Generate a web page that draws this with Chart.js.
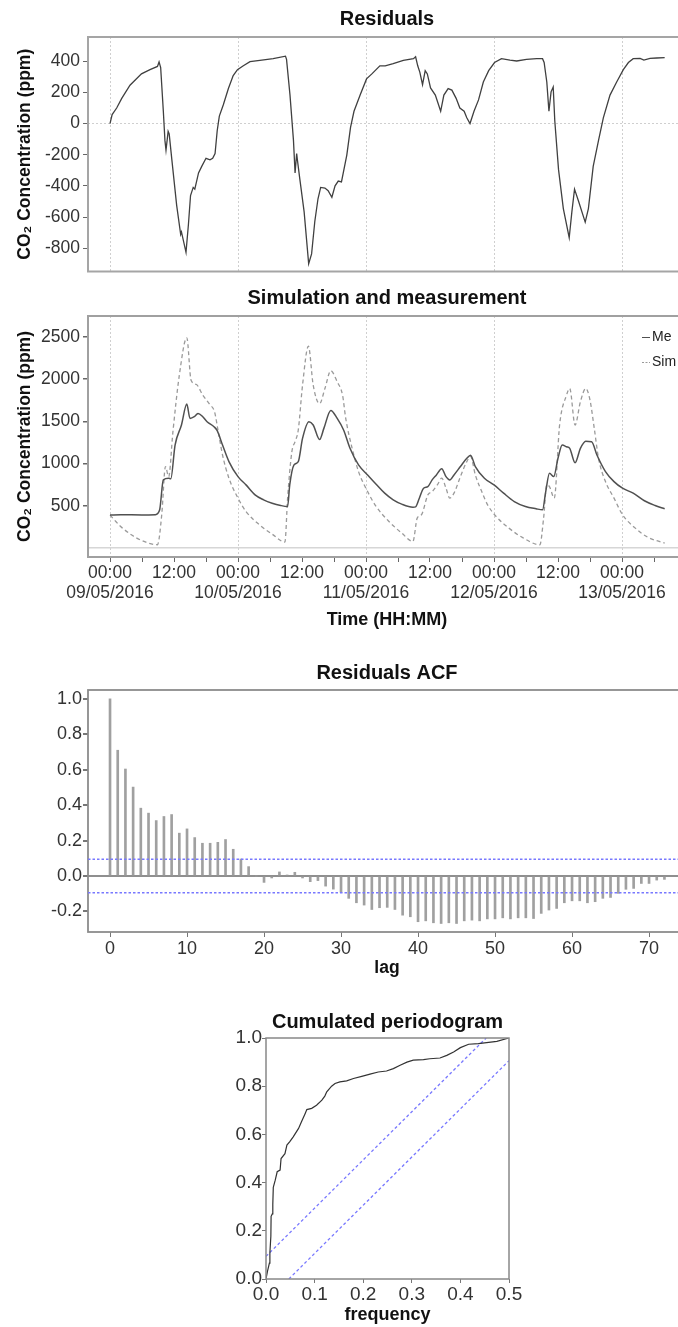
<!DOCTYPE html>
<html>
<head>
<meta charset="utf-8">
<script src="https://cdn.jsdelivr.net/npm/chart.js@4.4.1/dist/chart.umd.min.js"></script>
<style>
  html, body { margin: 0; padding: 0; background: #fff; width: 678px; height: 1327px; overflow: hidden; }
  canvas { position: absolute; left: 0; }
</style>
</head>
<body>
<canvas id="resid" width="774" height="285" style="top:0px"></canvas>
<canvas id="simmeas" width="774" height="352" style="top:280px"></canvas>
<canvas id="acf" width="774" height="330" style="top:650px"></canvas>
<canvas id="cpgram" width="774" height="332" style="top:995px"></canvas>
<script>
// ---- data (hours since 09/05/2016 00:00) ----
const residHours = [0, 0.4, 1.25, 2.2, 3.75, 5.9, 7.5, 8.9, 9.2, 9.5, 10, 10.3, 10.5, 10.9, 11.1, 11.6, 12.5, 13.25, 13.4, 14.25,
  14.7, 15.1, 15.6, 15.9, 16.6, 17.2, 18, 18.75, 19.25, 19.7, 20.1, 20.5, 21.25, 22.2, 23.1, 23.9, 25, 26.25, 28.1, 30.6,
  32.9, 33.1, 33.75, 34.4, 34.7, 35, 35.1, 35.6, 36.4, 37.25, 37.8, 38.4, 39, 39.5, 40.3, 40.9, 41.6, 42.2, 42.8, 43.4,
  44.4, 45.1, 45.75, 46.9, 48.1, 49.1, 50.6, 51.6, 53.1, 55, 56.9, 57.3, 57.7, 58.1, 58.6, 59.1, 59.5, 60.1, 61, 61.4,
  62, 62.6, 63.4, 64.1, 64.9, 65.6, 66.4, 66.9, 67.5, 68.25, 69.1, 70, 71, 72.1, 73.4, 75, 76.25, 78.1, 80, 81.1,
  81.4, 81.9, 82.3, 82.7, 83.1, 83.4, 84.1, 85, 86.1, 86.6, 87.1, 87.9, 89.1, 89.7, 90.6, 91.6, 92.5, 93.75, 95, 96.25,
  97.2, 98.1, 99.4, 100.1, 101.25, 102.5, 104];
const residValues = [0, 58, 100, 162, 246, 319, 346, 367, 396, 360, 79, -108, -171, -50, -67, -233, -525, -712, -696, -827,
  -650, -462, -410, -421, -317, -275, -223, -233, -223, -192, -46, 48, 121, 225, 308, 346, 371, 398, 406, 417,
  433, 412, 183, -108, -317, -192, -223, -358, -567, -900, -837, -629, -483, -410, -414, -431, -473, -400, -369, -375,
  -202, -25, 79, 183, 287, 319, 371, 371, 385, 406, 417, 429, 371, 329, 250, 340, 319, 229, 183, 142,
  79, 183, 225, 215, 162, 100, 79, 37, 0, 79, 152, 267, 340, 392, 417, 408, 402, 412, 417, 417,
  392, 267, 79, 204, 235, 17, -296, -546, -733, -567, -421, -504, -633, -546, -275, -108, 37, 183, 267, 346,
  392, 417, 419, 408, 419, 421, 423];

const measHours = [0, 2, 4, 6, 8.5, 9.3, 10, 11, 11.4, 12.2, 13.4, 14.4, 15, 15.8, 16.5, 17.4, 18.2, 19.5, 20.1, 21.1,
  22.3, 24, 25.5, 27.2, 28.8, 30.4, 32, 33.3, 33.7, 34.5, 35.3, 36.1, 37.3, 38.1, 39.3, 40.1, 41.4, 42.6, 43.8, 45,
  46.6, 48.3, 49.9, 51.5, 53.1, 54.7, 56.8, 57.3, 58, 58.8, 59.6, 60.4, 61.2, 62.2, 63, 63.7, 64.5, 65.7, 66.9, 67.6,
  68.5, 70.2, 72, 73.8, 75.8, 77.9, 79.9, 81.1, 81.7, 82.4, 83.2, 84, 84.8, 85.6, 86.2, 87.2, 88.2, 89.2, 90.3, 91.3,
  92.9, 94.5, 96.1, 98.1, 100.2, 102.2, 104];
const measValues = [390, 395, 393, 392, 395, 450, 807, 827, 820, 1220, 1457, 1705, 1535, 1555, 1594, 1555, 1496, 1437, 1390, 1220,
  1024, 846, 748, 630, 571, 531, 504, 492, 748, 984, 1024, 1299, 1496, 1457, 1285, 1417, 1630, 1535, 1398, 1181,
  984, 866, 756, 650, 571, 520, 484, 488, 590, 709, 728, 807, 866, 940, 846, 807, 866, 965, 1063, 1100,
  965, 827, 748, 650, 551, 492, 465, 453, 669, 886, 846, 1063, 1220, 1200, 1181, 1010, 1181, 1265, 1260, 1102,
  906, 787, 709, 650, 560, 504, 465];

const simHours = [0, 2, 4, 6, 8.9, 9.7, 10.4, 11, 11.8, 13, 14.4, 15.2, 16.2, 17.4, 18.7, 19.6, 20.3, 21.1, 22.3, 24,
  25.5, 28, 30.4, 32.8, 33.3, 34.1, 34.7, 35.3, 36.1, 37.2, 38.1, 39.3, 40.3, 41.4, 42.6, 43.6, 44.2, 45.4, 46.6, 48.3,
  49.9, 52.3, 54.7, 56.8, 57.6, 58.4, 59.6, 60.4, 61.4, 62.2, 63, 63.7, 64.5, 65.7, 66.9, 67.6, 68.5, 69.7, 70.8, 72.4,
  74.8, 77.3, 80.6, 81.3, 81.9, 82.4, 83.3, 84.3, 85.6, 86.2, 87.2, 88.2, 89.2, 90, 90.8, 91.6, 92.9, 94.5, 96.1, 98.5,
  100.9, 104];
const simValues = [390, 256, 157, 87, 39, 394, 965, 846, 1378, 2047, 2490, 1988, 1937, 1811, 1700, 1614, 1378, 1102, 827, 591,
  433, 276, 165, 71, 591, 1142, 1260, 1398, 1929, 2390, 1929, 1710, 1890, 2100, 1968, 1811, 1535, 1181, 906, 669,
  492, 315, 177, 79, 354, 394, 630, 669, 750, 827, 709, 591, 650, 846, 1024, 1085, 866, 669, 512, 374,
  236, 126, 39, 354, 748, 728, 591, 1457, 1811, 1890, 1457, 1732, 1890, 1752, 1417, 1063, 787, 591, 394, 236,
  126, 59];

const dayTicks = [0, 24, 48, 72, 96];
const sixHourTicks = [0, 6, 12, 18, 24, 30, 36, 42, 48, 54, 60, 66, 72, 78, 84, 90, 96, 102];
const dayLabels = ['09/05/2016', '10/05/2016', '11/05/2016', '12/05/2016', '13/05/2016'];
const residTicks = [-800, -600, -400, -200, 0, 200, 400];
const concTicks = [0, 500, 1000, 1500, 2000, 2500];

const acfLags = Array.from({ length: 73 }, (_, i) => i);
const acfValues = [1.0, 0.71, 0.604, 0.502, 0.383, 0.355, 0.313, 0.336, 0.347, 0.242, 0.266, 0.217, 0.185, 0.185, 0.19, 0.206, 0.151, 0.096, 0.053, 0.0,
  -0.036, -0.011, 0.023, 0.006, 0.021, -0.011, -0.032, -0.026, -0.057, -0.074, -0.092, -0.126, -0.151, -0.164, -0.189, -0.179, -0.177, -0.189, -0.221, -0.23,
  -0.258, -0.253, -0.264, -0.268, -0.264, -0.268, -0.253, -0.249, -0.253, -0.242, -0.242, -0.236, -0.242, -0.236, -0.236, -0.24, -0.211, -0.192, -0.183, -0.151,
  -0.14, -0.14, -0.151, -0.145, -0.126, -0.121, -0.098, -0.075, -0.07, -0.042, -0.042, -0.023, -0.019];
const acfCi = 0.095;
const lagTicks = [0, 10, 20, 30, 40, 50, 60, 70];
const acfTicks = [-0.2, 0, 0.2, 0.4, 0.6, 0.8, 1.0];

const pgFreq = [0, 0.003, 0.007, 0.008, 0.01, 0.0105, 0.013, 0.014, 0.015, 0.019, 0.023, 0.029, 0.031, 0.039, 0.043, 0.049, 0.056, 0.067, 0.073, 0.08,
  0.084, 0.094, 0.104, 0.115, 0.121, 0.125, 0.135, 0.142, 0.152, 0.166, 0.18, 0.197, 0.214, 0.231, 0.248, 0.262, 0.276, 0.29, 0.303, 0.324,
  0.337, 0.358, 0.372, 0.386, 0.4, 0.417, 0.437, 0.454, 0.475, 0.5];
const pgCum = [0, 0.032, 0.066, 0.108, 0.177, 0.26, 0.27, 0.31, 0.38, 0.41, 0.445, 0.452, 0.5, 0.52, 0.556, 0.57, 0.59, 0.625, 0.652, 0.684,
  0.703, 0.708, 0.721, 0.742, 0.759, 0.777, 0.8, 0.811, 0.818, 0.822, 0.832, 0.841, 0.85, 0.859, 0.863, 0.873, 0.887, 0.9, 0.908, 0.91,
  0.914, 0.917, 0.928, 0.942, 0.96, 0.974, 0.977, 0.981, 0.986, 1.0];
const bandUpperFreq = [0, 0.453];
const bandUpperCum = [0.094, 1.0];
const bandLowerFreq = [0.047, 0.5];
const bandLowerCum = [0, 0.906];
const freqTicks = [0, 0.1, 0.2, 0.3, 0.4, 0.5];
const cumTicks = [0, 0.2, 0.4, 0.6, 0.8, 1.0];

// ---- helpers ----
const FONT = '"Liberation Sans", Arial, sans-serif';
Chart.defaults.font.family = FONT;
Chart.defaults.color = '#333';

const toPoints = (xs, ys) => xs.map((x, i) => ({ x, y: ys[i] }));
const fixWidth = w => s => { s.width = w; };
const fixHeight = h => s => { s.height = h; };
const setTicks = vals => s => { s.ticks = vals.map(v => ({ value: v })); };
const onlyAt = (test, color) => c => (c.tick && test(c.tick.value) ? color : 'rgba(0,0,0,0)');
const TRANSPARENT = 'rgba(0,0,0,0)';
const BLUE = 'rgb(120,120,255)';

const titleOpts = (text, top, bottom) => ({
  display: true, text, fullSize: false, color: '#111',
  font: { size: 20, weight: 'bold', lineHeight: 1.2 },
  padding: { top, bottom }
});
const yTitle = {
  display: true, text: 'CO\u2082 Concentration (ppm)', color: '#111',
  font: { size: 17.5, weight: 'bold', lineHeight: 1.2 },
  padding: { top: 14.5, bottom: 0 }
};

// box around the plotting region
const framePlugin = {
  id: 'frame',
  afterDatasetsDraw(chart, args, opts) {
    const { ctx, chartArea: a } = chart;
    ctx.save();
    ctx.strokeStyle = opts.color || '#999';
    ctx.lineWidth = opts.width || 1.5;
    ctx.strokeRect(a.left, a.top, a.right - a.left, a.bottom - a.top);
    ctx.restore();
  }
};

// horizontal significance bounds for the ACF
const ciPlugin = {
  id: 'ciLines',
  afterDatasetsDraw(chart, args, opts) {
    const { ctx, chartArea: a, scales: { y } } = chart;
    ctx.save();
    ctx.strokeStyle = opts.color;
    ctx.lineWidth = 1.5;
    ctx.setLineDash([2.5, 2]);
    opts.levels.forEach(v => {
      const py = y.getPixelForValue(v);
      ctx.beginPath();
      ctx.moveTo(a.left, py);
      ctx.lineTo(a.right, py);
      ctx.stroke();
    });
    ctx.restore();
  }
};

// small legend in the top right corner of the panel
const cornerLegend = {
  id: 'cornerLegend',
  afterDraw(chart) {
    const { ctx, chartArea: a } = chart;
    ctx.save();
    ctx.font = '14px ' + FONT;
    ctx.fillStyle = '#222';
    ctx.textBaseline = 'middle';
    chart.data.datasets.forEach((ds, i) => {
      const x = a.right - 44;
      const y = a.top + 21 + i * 25;
      ctx.strokeStyle = ds.borderColor;
      ctx.lineWidth = 1;
      ctx.setLineDash(ds.borderDash ? [2, 1.5] : []);
      ctx.beginPath();
      ctx.moveTo(x, y + 0.5);
      ctx.lineTo(x + 8, y + 0.5);
      ctx.stroke();
      ctx.fillText(ds.label, x + 10, y);
    });
    ctx.restore();
  }
};

const baseOpts = {
  responsive: false,
  animation: false,
  devicePixelRatio: 1,
  events: []
};

const hourMin = -4.125, hourMax = 108;

// ---- Residuals ----
new Chart(document.getElementById('resid'), {
  type: 'line',
  data: {
    datasets: [{
      label: 'Residuals',
      data: toPoints(residHours, residValues),
      borderColor: '#404040', borderWidth: 1.3, pointRadius: 0, fill: false, tension: 0
    }]
  },
  options: {
    ...baseOpts,
    layout: { padding: { left: 0, right: 88, top: 0, bottom: 7 } },
    plugins: {
      legend: { display: false }, tooltip: { enabled: false },
      title: titleOpts('Residuals', 7, 6),
      frame: { color: '#a5a5a5', width: 2 }
    },
    scales: {
      x: {
        type: 'linear', min: hourMin, max: hourMax,
        afterFit: fixHeight(0), afterBuildTicks: setTicks(dayTicks),
        ticks: { display: false },
        grid: { color: '#cfcfcf', lineWidth: 1, drawTicks: false },
        border: { display: false, dash: [2, 2] }
      },
      y: {
        type: 'linear', min: -950, max: 556,
        afterFit: fixWidth(88), afterBuildTicks: setTicks(residTicks),
        ticks: { font: { size: 17.5 }, color: '#333', padding: 3 },
        grid: { color: onlyAt(v => v === 0, '#cfcfcf'), tickColor: '#666', tickLength: 5, lineWidth: 1 },
        border: { display: false, dash: [2, 2] },
        title: yTitle
      }
    }
  },
  plugins: [framePlugin]
});

// ---- Simulation and measurement ----
new Chart(document.getElementById('simmeas'), {
  type: 'line',
  data: {
    datasets: [{
      label: 'Me',
      data: toPoints(measHours, measValues),
      borderColor: '#505050', borderWidth: 1.5, pointRadius: 0, fill: false,
      cubicInterpolationMode: 'monotone'
    }, {
      label: 'Sim',
      data: toPoints(simHours, simValues),
      borderColor: '#9a9a9a', borderWidth: 1.3, borderDash: [4, 3], pointRadius: 0, fill: false,
      cubicInterpolationMode: 'monotone'
    }]
  },
  options: {
    ...baseOpts,
    layout: { padding: { left: 0, right: 88, top: 0, bottom: 0 } },
    plugins: {
      legend: { display: false }, tooltip: { enabled: false },
      title: titleOpts('Simulation and measurement', 6, 6),
      frame: { color: '#a0a0a0', width: 2 }
    },
    scales: {
      x: {
        type: 'linear', min: hourMin, max: hourMax,
        afterFit: fixHeight(75), afterBuildTicks: setTicks(sixHourTicks),
        ticks: {
          autoSkip: false, maxRotation: 0, padding: 1, color: '#333',
          font: { size: 17.5, lineHeight: 1.15 },
          callback: v => {
            if (v % 24 === 0) return ['00:00', dayLabels[v / 24]];
            if (v % 24 === 12) return '12:00';
            return '';
          }
        },
        grid: { color: onlyAt(v => v % 24 === 0, '#cfcfcf'), tickColor: '#666', tickLength: 5, lineWidth: 1 },
        border: { display: false, dash: [2, 2] },
        title: {
          display: true, text: 'Time (HH:MM)', color: '#111',
          font: { size: 18, weight: 'bold', lineHeight: 1.2 },
          padding: { top: 0, bottom: 1.2 }
        }
      },
      y: {
        type: 'linear', min: -106, max: 2748,
        afterFit: fixWidth(88), afterBuildTicks: setTicks(concTicks),
        ticks: { font: { size: 17.5 }, color: '#333', padding: 3, callback: v => (v === 0 ? '' : String(v)) },
        grid: {
          color: onlyAt(v => v === 0, '#d6d6d6'), lineWidth: 1.5,
          tickColor: c => (c.tick && c.tick.value === 0 ? TRANSPARENT : '#666'), tickLength: 5
        },
        border: { display: false },
        title: yTitle
      }
    }
  },
  plugins: [framePlugin, cornerLegend]
});

// ---- Residuals ACF ----
new Chart(document.getElementById('acf'), {
  type: 'bar',
  data: {
    datasets: [{
      label: 'ACF',
      data: toPoints(acfLags, acfValues),
      backgroundColor: '#a0a0a0', barThickness: 2
    }]
  },
  options: {
    ...baseOpts,
    layout: { padding: { left: 0, right: 88, top: 0, bottom: 0 } },
    plugins: {
      legend: { display: false }, tooltip: { enabled: false },
      title: titleOpts('Residuals ACF', 11, 5),
      frame: { color: '#8c8c8c', width: 1.8 },
      ciLines: { levels: [acfCi, -acfCi], color: BLUE }
    },
    scales: {
      x: {
        type: 'linear', min: -2.86, max: 74.8, offset: false,
        afterFit: fixHeight(48), afterBuildTicks: setTicks(lagTicks),
        ticks: { autoSkip: false, maxRotation: 0, padding: 1.2, color: '#333', font: { size: 18 } },
        grid: { color: TRANSPARENT, tickColor: '#777', tickLength: 5, offset: false },
        border: { display: false },
        title: {
          display: true, text: 'lag', color: '#111',
          font: { size: 17.5, weight: 'bold', lineHeight: 1.2 },
          padding: { top: 0, bottom: 1.5 }
        }
      },
      y: {
        type: 'linear', min: -0.316, max: 1.05,
        afterFit: fixWidth(88), afterBuildTicks: setTicks(acfTicks),
        ticks: { font: { size: 18 }, color: '#333', padding: 1, callback: v => v.toFixed(1) },
        grid: { color: onlyAt(v => v === 0, '#8f8f8f'), lineWidth: 2, tickColor: '#777', tickLength: 5 },
        border: { display: false }
      }
    }
  },
  plugins: [framePlugin, ciPlugin]
});

// ---- Cumulated periodogram ----
const bandStyle = { borderColor: BLUE, borderWidth: 1.3, borderDash: [3, 2.5], pointRadius: 0, fill: false };
new Chart(document.getElementById('cpgram'), {
  type: 'line',
  data: {
    datasets: [{
      label: 'cumulated periodogram',
      data: toPoints(pgFreq, pgCum),
      borderColor: '#333', borderWidth: 1.2, pointRadius: 0, fill: false, tension: 0
    }, {
      label: 'upper bound', data: toPoints(bandUpperFreq, bandUpperCum), ...bandStyle
    }, {
      label: 'lower bound', data: toPoints(bandLowerFreq, bandLowerCum), ...bandStyle
    }]
  },
  options: {
    ...baseOpts,
    layout: { padding: { left: 0, right: 265, top: 0, bottom: 0 } },
    plugins: {
      legend: { display: false }, tooltip: { enabled: false },
      title: titleOpts('Cumulated periodogram', 15, 4),
      frame: { color: '#888', width: 1.5 }
    },
    scales: {
      x: {
        type: 'linear', min: 0, max: 0.5,
        afterFit: fixHeight(48), afterBuildTicks: setTicks(freqTicks),
        ticks: { autoSkip: false, maxRotation: 0, padding: 0.6, color: '#333', font: { size: 19 }, callback: v => v.toFixed(1) },
        grid: { color: TRANSPARENT, tickColor: '#777', tickLength: 4 },
        border: { display: false },
        title: {
          display: true, text: 'frequency', color: '#111',
          font: { size: 18, weight: 'bold', lineHeight: 1.2 },
          padding: { top: 0, bottom: 1.2 }
        }
      },
      y: {
        type: 'linear', min: 0, max: 1,
        afterFit: fixWidth(266), afterBuildTicks: setTicks(cumTicks),
        ticks: { font: { size: 19 }, color: '#333', padding: 0, callback: v => v.toFixed(1) },
        grid: { color: TRANSPARENT, tickColor: '#777', tickLength: 4 },
        border: { display: false }
      }
    }
  },
  plugins: [framePlugin]
});
</script>
</body>
</html>
